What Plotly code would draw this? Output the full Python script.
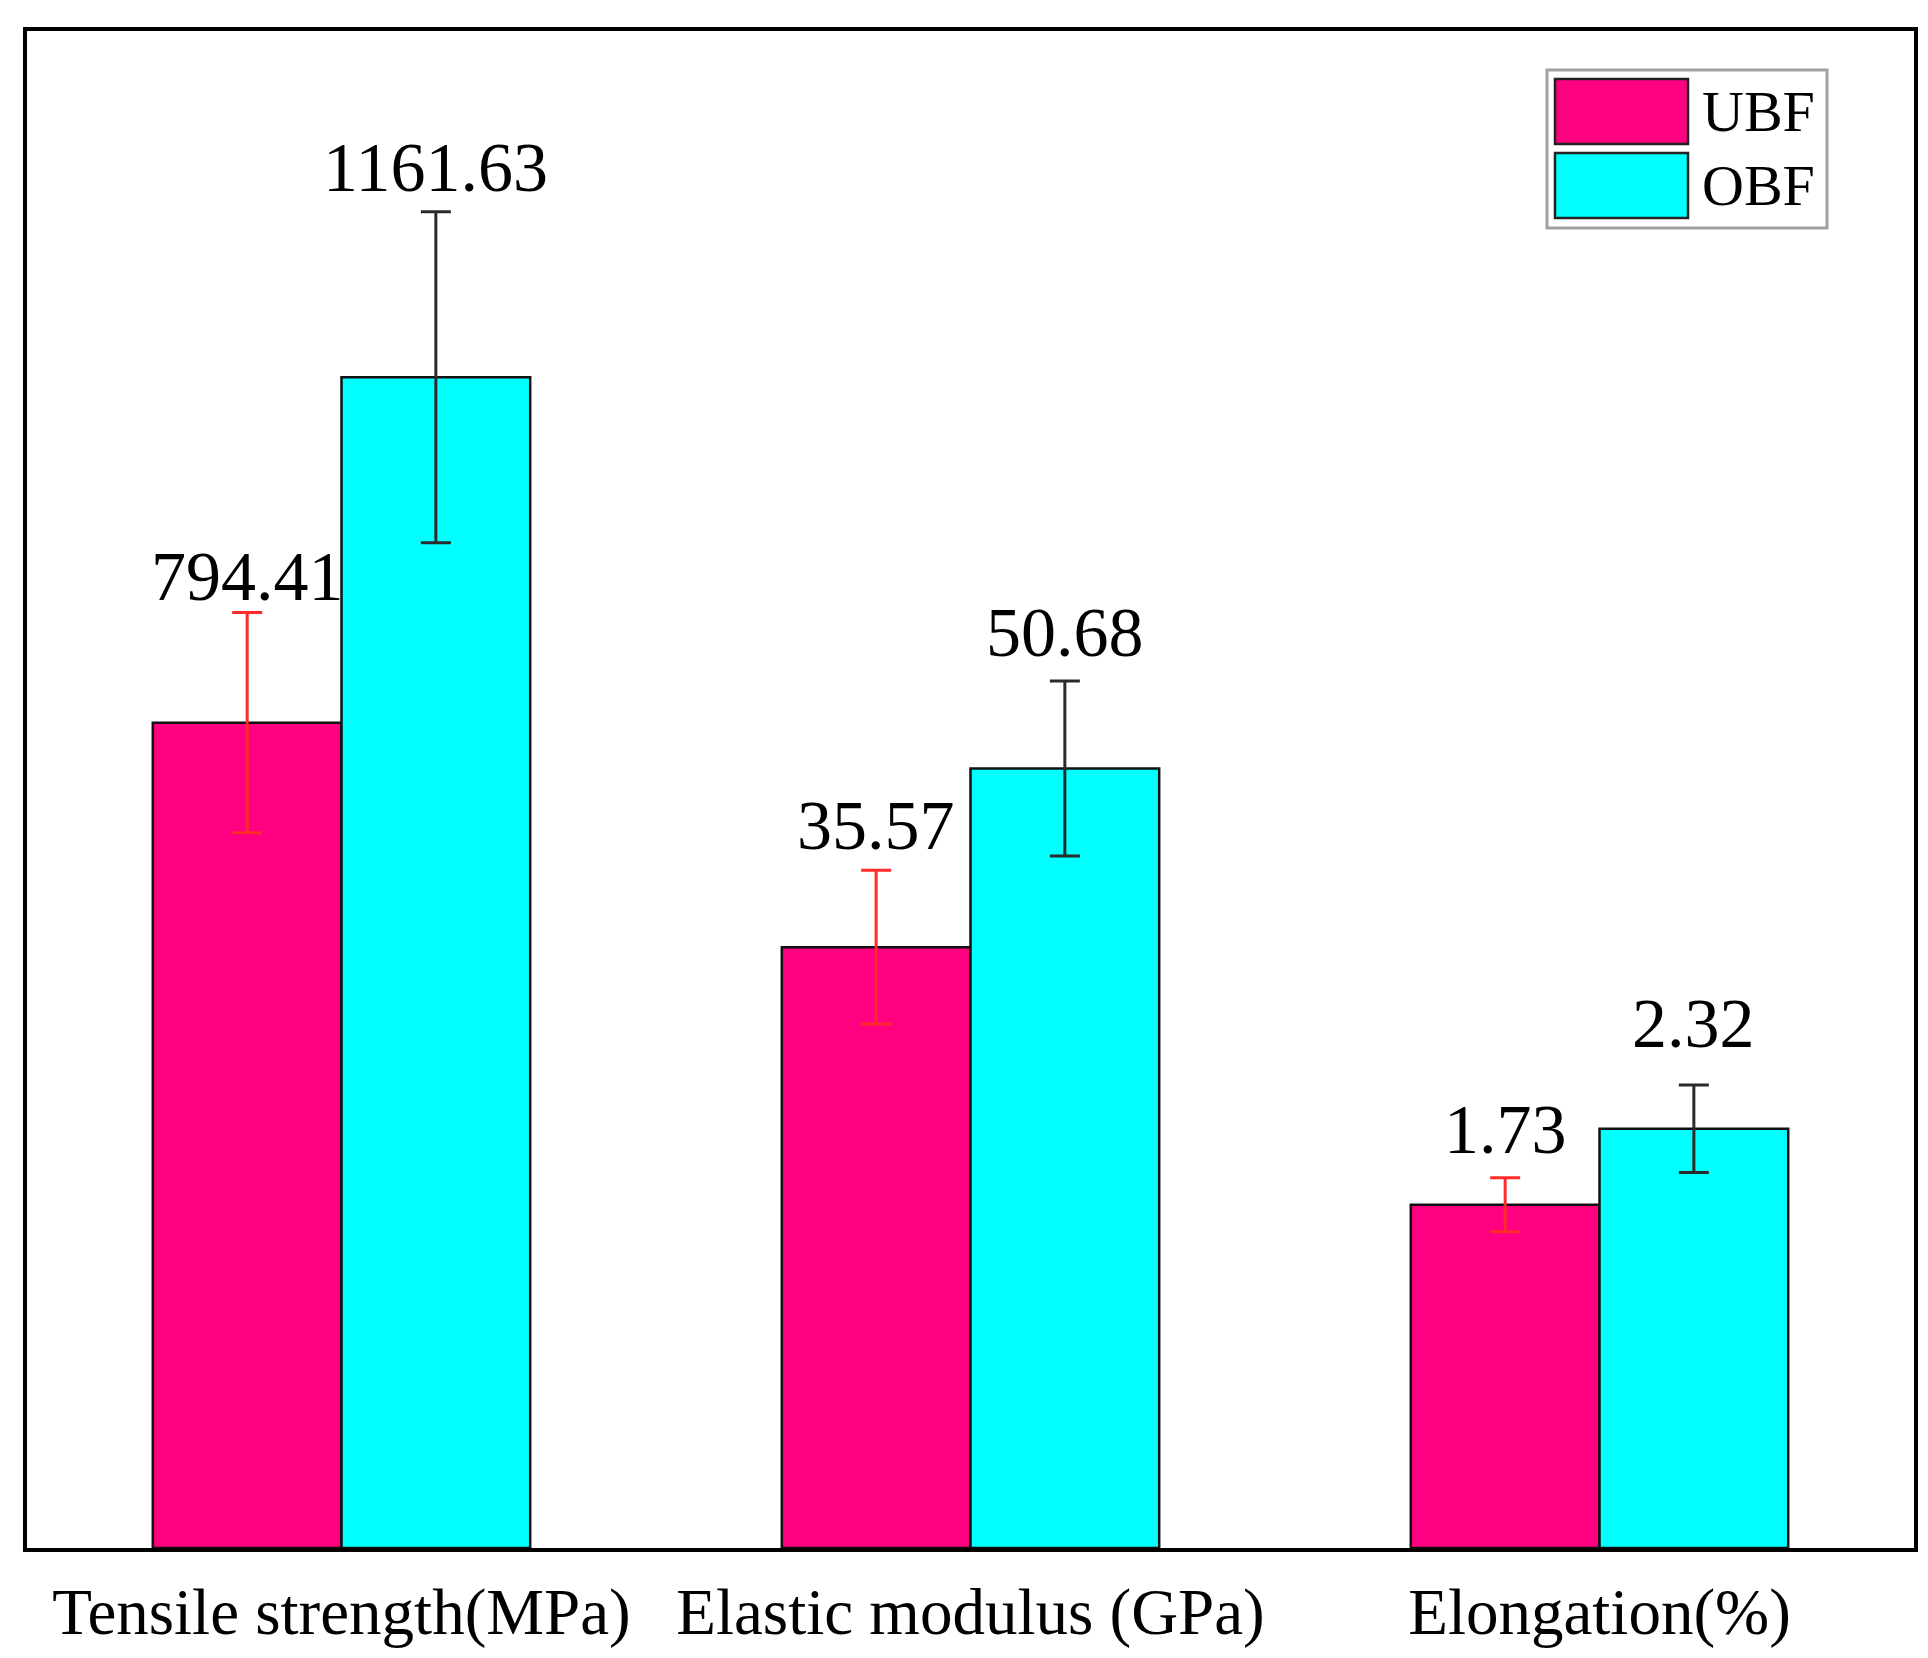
import plotly.graph_objects as go

# ---------------- data ----------------
categories = ["Tensile strength(MPa)", "Elastic modulus (GPa)", "Elongation(%)"]
series_names = ["UBF", "OBF"]
ubf_values = [794.41, 35.57, 1.73]
obf_values = [1161.63, 50.68, 2.32]
ubf_errors = [117.0, 6.5, 0.21]
obf_errors = [176.0, 7.4, 0.34]

# ---------------- style / layout ----------------
PAGE_OFF = 8            # default body margin of the html page
W, H = 1920, 1650
M_L, M_R, M_T, M_B = 19, 14, 23, 110
FONT = "Liberation Serif"
BARGAP = 0.4
colors = {"UBF": "#FF0080", "OBF": "#00FFFF"}
err_colors = {"UBF": "#FF2A2A", "OBF": "#2A2A2A"}
# each property has its own (hidden) value axis
axis_ranges = [(-83.3, 1529.9), (-15.25, 113.06), (-0.941, 10.86)]
# vertical shift (px) of value labels above the error-bar caps
label_shift = {"UBF": [-4, 4, 8], "OBF": [4, 8, 21]}

series_vals = {"UBF": ubf_values, "OBF": obf_values}
series_errs = {"UBF": ubf_errors, "OBF": obf_errors}

fig = go.Figure()
annotations = []
half = (1 - BARGAP) / 4.0

for g, cat in enumerate(categories):
    yname = "y" if g == 0 else f"y{g+1}"
    lo = axis_ranges[g][0]
    for s in series_names:
        v = series_vals[s][g]
        e = series_errs[s][g]
        fig.add_trace(go.Bar(
            x=[cat], y=[v - lo], base=[lo], yaxis=yname,
            name=s, offsetgroup=s, showlegend=False,
            marker=dict(color=colors[s], line=dict(color="#111111", width=2.5)),
            error_y=dict(type="data", array=[e], color=err_colors[s],
                         thickness=3, width=15, visible=True),
        ))
        annotations.append(dict(
            x=g + (-half if s == "UBF" else half), xref="x",
            y=v + e, yref=yname, yanchor="bottom", xanchor="center",
            text=f"{v:.2f}", showarrow=False,
            yshift=label_shift[s][g],
            font=dict(family=FONT, size=70, color="#000000"),
        ))

# ----- manual legend (large swatches), positions given in page pixels -----
PW = W - M_L - M_R
PH = H - M_T - M_B
def px(xp):
    return (xp - PAGE_OFF - M_L) / PW
def py(yp):
    return (H - M_B - (yp - PAGE_OFF)) / PH

shapes = [
    dict(type="rect", xref="paper", yref="paper",
         x0=px(1547), x1=px(1827), y0=py(228), y1=py(70),
         line=dict(color="#A0A0A0", width=3), fillcolor="white", layer="above"),
]
leg_rows = [("UBF", 79, 144), ("OBF", 153, 218)]
for name, t, b in leg_rows:
    shapes.append(dict(type="rect", xref="paper", yref="paper",
                       x0=px(1555), x1=px(1688), y0=py(b), y1=py(t),
                       line=dict(color="#222222", width=2.5),
                       fillcolor=colors[name], layer="above"))
    annotations.append(dict(x=px(1700), y=py((t + b) / 2), xref="paper", yref="paper",
                            xanchor="left", yanchor="middle", text=name, showarrow=False,
                            font=dict(family=FONT, size=58, color="#000000")))

hidden_y = dict(showticklabels=False, showgrid=False, zeroline=False, ticks="")
fig.update_layout(
    width=W, height=H,
    margin=dict(l=M_L, r=M_R, t=M_T, b=M_B, pad=0, autoexpand=False),
    paper_bgcolor="white", plot_bgcolor="white",
    barmode="group", bargap=BARGAP, bargroupgap=0,
    font=dict(family=FONT, color="#000000"),
    showlegend=False,
    xaxis=dict(type="category", categoryorder="array", categoryarray=categories,
               range=[-0.5, 2.5], showline=True, mirror=True, linecolor="#000000",
               linewidth=4, ticks="", showgrid=False, ticklabelstandoff=4,
               automargin=False,
               tickfont=dict(family=FONT, size=65, color="#000000")),
    yaxis=dict(range=list(axis_ranges[0]), showline=True, mirror=True,
               linecolor="#000000", linewidth=4, automargin=False, **hidden_y),
    yaxis2=dict(range=list(axis_ranges[1]), overlaying="y", visible=False),
    yaxis3=dict(range=list(axis_ranges[2]), overlaying="y", visible=False),
    annotations=annotations,
    shapes=shapes,
)

fig.write_html("out.html")
